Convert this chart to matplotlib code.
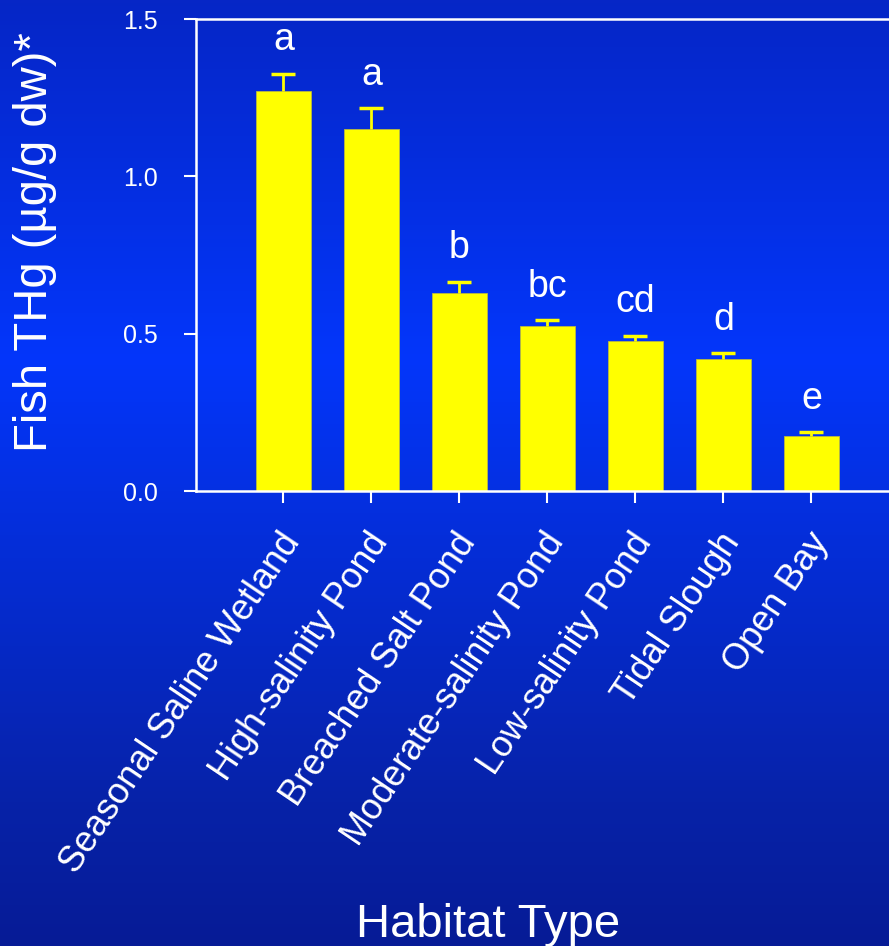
import numpy as np
import matplotlib
matplotlib.use('Agg')
import matplotlib.pyplot as plt
import matplotlib.transforms as mtransforms
from matplotlib.colors import LinearSegmentedColormap

plt.rcParams['font.family'] = ['Liberation Sans', 'DejaVu Sans']

# ---- data ----
habitats = ['Seasonal Saline Wetland', 'High-salinity Pond', 'Breached Salt Pond',
            'Moderate-salinity Pond', 'Low-salinity Pond', 'Tidal Slough', 'Open Bay']
thg_mean = [1.27, 1.15, 0.628, 0.523, 0.477, 0.419, 0.174]
thg_se = [0.055, 0.066, 0.037, 0.020, 0.016, 0.019, 0.013]
groups = ['a', 'a', 'b', 'bc', 'cd', 'd', 'e']
yticks = [0.0, 0.5, 1.0, 1.5]

W, H = 889, 946
fig = plt.figure(figsize=(W/100, H/100), dpi=100)

# blue slide background (vertical gradient)
bg = fig.add_axes([0, 0, 1, 1], zorder=-10)
cmap = LinearSegmentedColormap.from_list('slide', [(0.0, '#0626c6'), (0.38, '#0336fb'),
                                                   (0.85, '#0722a8'), (1.0, '#061b96')])
bg.imshow(np.linspace(0, 1, 256).reshape(-1, 1), cmap=cmap, aspect='auto', extent=[0, 1, 0, 1])
bg.axis('off')

ax = fig.add_axes([196/W, 1-491/H, 1-196/W, (491-19)/H])
ax.set_facecolor('none')
x = np.arange(len(habitats))
ax.bar(x, thg_mean, width=0.625, color='#ffff00', edgecolor='#b8b840', linewidth=0.6, zorder=2)
_, caps, _ = ax.errorbar(x, thg_mean, yerr=[np.zeros(len(x)), thg_se], fmt='none', ecolor='#ffff00',
                         elinewidth=2, capsize=8.5, capthick=2.5, zorder=3)
caps[0].set_visible(False)  # upper bars only

for xi, m, e, g in zip(x, thg_mean, thg_se, groups):
    ax.annotate(g, (xi, m+e), xytext=(0, 17), textcoords='offset points',
                ha='center', va='baseline', color='white', fontsize=27)

ax.set_xlim(-0.994, 6.881)
ax.set_ylim(0, 1.5)
ax.set_yticks(yticks)
ax.set_yticklabels([f'{v:.1f}' for v in yticks])
ax.set_xticks(x)
ax.set_xticklabels(habitats, rotation=56, ha='right', va='top', rotation_mode='anchor')

for s in ['left', 'top', 'bottom']:
    ax.spines[s].set_color('white'); ax.spines[s].set_linewidth(1.8)
ax.spines['right'].set_visible(False)
ax.tick_params(axis='y', colors='white', length=8.6, width=1.5, direction='out', pad=19, labelsize=18)
ax.tick_params(axis='x', colors='white', length=8.6, width=1.5, direction='out', pad=17, labelsize=26)
shift = mtransforms.ScaledTranslation(-5/100, 0, fig.dpi_scale_trans)
for lab in ax.get_xticklabels():
    lab.set_transform(lab.get_transform() + shift)

fig.text(35/W, 1-242/H, 'Fish THg (\u00b5g/g dw)*', rotation=90, ha='center', va='center',
         color='white', fontsize=34)
fig.text(488/W, 9/H, 'Habitat Type', ha='center', va='baseline', color='white', fontsize=34)

fig.savefig('out.png', dpi=100)
